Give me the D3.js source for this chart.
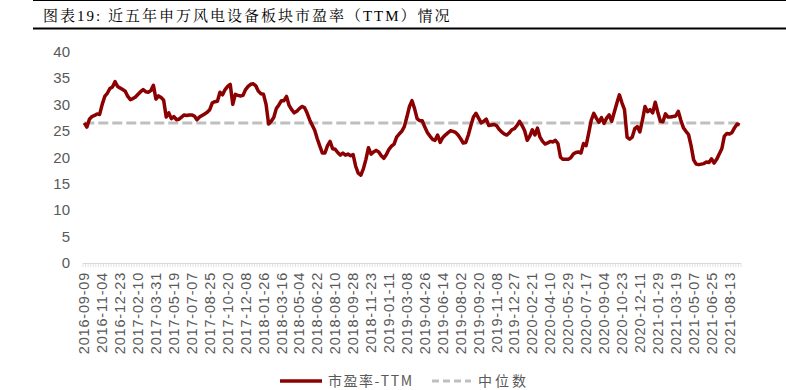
<!DOCTYPE html>
<html>
<head>
<meta charset="utf-8">
<script src="https://cdn.jsdelivr.net/npm/d3@7"></script>
<style>
body { margin: 0; background: #fff; }
</style>
</head>
<body>
<div id="chart-area"></div>
<script>
// weekly dates, 7 per row
var dates = [
"2016-09-09","2016-09-14","2016-09-23","2016-09-30","2016-10-14","2016-10-21","2016-10-28",
"2016-11-04","2016-11-11","2016-11-18","2016-11-25","2016-12-02","2016-12-09","2016-12-16",
"2016-12-23","2016-12-30","2017-01-06","2017-01-13","2017-01-20","2017-01-26","2017-02-03",
"2017-02-10","2017-02-17","2017-02-24","2017-03-03","2017-03-10","2017-03-17","2017-03-24",
"2017-03-31","2017-04-07","2017-04-14","2017-04-21","2017-04-28","2017-05-05","2017-05-12",
"2017-05-19","2017-05-26","2017-06-02","2017-06-09","2017-06-16","2017-06-23","2017-06-30",
"2017-07-07","2017-07-14","2017-07-21","2017-07-28","2017-08-04","2017-08-11","2017-08-18",
"2017-08-25","2017-09-01","2017-09-08","2017-09-15","2017-09-22","2017-09-29","2017-10-13",
"2017-10-20","2017-10-27","2017-11-03","2017-11-10","2017-11-17","2017-11-24","2017-12-01",
"2017-12-08","2017-12-15","2017-12-22","2017-12-29","2018-01-05","2018-01-12","2018-01-19",
"2018-01-26","2018-02-02","2018-02-09","2018-02-14","2018-02-23","2018-03-02","2018-03-09",
"2018-03-16","2018-03-23","2018-03-30","2018-04-04","2018-04-13","2018-04-20","2018-04-27",
"2018-05-04","2018-05-11","2018-05-18","2018-05-25","2018-06-01","2018-06-08","2018-06-15",
"2018-06-22","2018-06-29","2018-07-06","2018-07-13","2018-07-20","2018-07-27","2018-08-03",
"2018-08-10","2018-08-17","2018-08-24","2018-08-31","2018-09-07","2018-09-14","2018-09-21",
"2018-09-28","2018-10-12","2018-10-19","2018-10-26","2018-11-02","2018-11-09","2018-11-16",
"2018-11-23","2018-11-30","2018-12-07","2018-12-14","2018-12-21","2018-12-28","2019-01-04",
"2019-01-11","2019-01-18","2019-01-25","2019-02-01","2019-02-15","2019-02-22","2019-03-01",
"2019-03-08","2019-03-15","2019-03-22","2019-03-29","2019-04-04","2019-04-12","2019-04-19",
"2019-04-26","2019-04-30","2019-05-10","2019-05-17","2019-05-24","2019-05-31","2019-06-06",
"2019-06-14","2019-06-21","2019-06-28","2019-07-05","2019-07-12","2019-07-19","2019-07-26",
"2019-08-02","2019-08-09","2019-08-16","2019-08-23","2019-08-30","2019-09-06","2019-09-12",
"2019-09-20","2019-09-27","2019-09-30","2019-10-11","2019-10-18","2019-10-25","2019-11-01",
"2019-11-08","2019-11-15","2019-11-22","2019-11-29","2019-12-06","2019-12-13","2019-12-20",
"2019-12-27","2020-01-03","2020-01-10","2020-01-17","2020-01-23","2020-02-07","2020-02-14",
"2020-02-21","2020-02-28","2020-03-06","2020-03-13","2020-03-20","2020-03-27","2020-04-03",
"2020-04-10","2020-04-17","2020-04-24","2020-04-30","2020-05-08","2020-05-15","2020-05-22",
"2020-05-29","2020-06-05","2020-06-12","2020-06-19","2020-06-24","2020-07-03","2020-07-10",
"2020-07-17","2020-07-24","2020-07-31","2020-08-07","2020-08-14","2020-08-21","2020-08-28",
"2020-09-04","2020-09-11","2020-09-18","2020-09-25","2020-09-30","2020-10-09","2020-10-16",
"2020-10-23","2020-10-30","2020-11-06","2020-11-13","2020-11-20","2020-11-27","2020-12-04",
"2020-12-11","2020-12-18","2020-12-25","2020-12-31","2021-01-08","2021-01-15","2021-01-22",
"2021-01-29","2021-02-05","2021-02-10","2021-02-19","2021-02-26","2021-03-05","2021-03-12",
"2021-03-19","2021-03-26","2021-04-02","2021-04-09","2021-04-16","2021-04-23","2021-04-30",
"2021-05-07","2021-05-14","2021-05-21","2021-05-28","2021-06-04","2021-06-11","2021-06-18",
"2021-06-25","2021-07-02","2021-07-09","2021-07-16","2021-07-23","2021-07-30","2021-08-06",
"2021-08-13","2021-08-20","2021-08-27","2021-09-03","2021-09-10"
];

// 市盈率-TTM, same rows as dates
var peValues = [
26.5,25.7,27.2,27.7,27.9,28.2,28.1,
30.0,31.5,32.1,33.0,33.3,34.3,33.4,
33.1,32.8,32.5,31.5,30.9,31.1,31.4,
31.9,32.4,32.8,32.4,32.3,32.6,33.6,
31.0,31.6,31.3,30.8,27.6,28.4,27.3,
27.7,27.1,27.2,27.6,28.0,27.9,28.0,
28.0,27.8,27.1,27.6,27.9,28.2,28.5,
29.0,30.3,30.5,30.6,32.3,31.8,32.8,
33.4,33.8,30.0,31.9,31.7,31.6,31.7,
32.8,33.4,33.8,33.9,33.5,32.5,32.0,
31.9,30.0,26.3,26.8,27.5,29.2,29.9,
30.7,30.7,31.5,29.8,29.0,28.4,28.7,
29.2,29.6,29.4,28.4,27.1,26.1,25.1,
23.5,22.1,20.8,20.8,22.2,23.0,21.6,
21.5,20.9,20.4,20.8,20.4,20.6,20.3,
20.5,18.3,17.0,16.6,17.8,19.6,21.8,
20.6,21.0,21.3,21.0,20.3,19.8,20.5,
21.5,22.1,22.5,23.8,24.4,24.9,25.8,
27.6,29.6,30.7,29.2,27.3,26.9,26.9,
25.7,24.7,24.0,23.4,23.2,24.2,22.8,
23.7,24.2,24.6,25.0,24.9,24.7,24.2,
23.5,22.7,22.8,24.2,26.0,27.6,28.3,
27.4,26.5,26.8,27.2,26.0,26.1,26.2,
26.0,25.3,24.8,24.4,24.2,24.6,25.2,
25.4,26.0,26.8,26.0,25.0,23.2,24.0,
25.2,24.2,25.5,23.8,23.0,22.5,22.7,
23.0,22.9,23.2,22.6,20.0,19.6,19.6,
19.6,19.9,20.6,20.9,21.0,20.8,22.6,
22.2,24.5,27.0,28.3,27.4,26.6,27.5,
26.4,27.4,28.0,26.8,28.5,30.2,31.8,
30.3,29.0,23.8,23.4,23.8,25.4,25.8,
24.8,27.0,29.6,28.6,29.0,28.4,30.4,
28.5,26.8,26.7,28.2,27.6,27.6,27.7,
27.8,28.7,27.0,25.6,24.9,24.3,22.2,
19.5,18.7,18.6,18.7,18.8,19.1,19.0,
19.7,18.9,19.6,20.6,21.6,24.0,24.5,
24.4,24.7,25.6,26.3,26.1
];

var medianValue = 26.5;

var tickLabels = [
"2016-09-09","2016-11-04","2016-12-23","2017-02-10","2017-03-31","2017-05-19",
"2017-07-07","2017-08-25","2017-10-20","2017-12-08","2018-01-26","2018-03-16",
"2018-05-04","2018-06-22","2018-08-10","2018-09-28","2018-11-23","2019-01-11",
"2019-03-08","2019-04-26","2019-06-14","2019-08-02","2019-09-20","2019-11-08",
"2019-12-27","2020-02-21","2020-04-10","2020-05-29","2020-07-17","2020-09-04",
"2020-10-23","2020-12-11","2021-01-29","2021-03-19","2021-05-07","2021-06-25",
"2021-08-13"
];
var yTicks = [0, 5, 10, 15, 20, 25, 30, 35, 40];

var seriesNames = ["市盈率-TTM", "中位数"];
var lineColor = "#8b0000";
var medianColor = "#bfbfbf";
var gray = "#595959";

var width = 786, height = 390;
var plot = {left: 83, right: 741, top: 51.5, bottom: 263};

var svg = d3.select("#chart-area").append("svg")
	.attr("width", width)
	.attr("height", height);

// title with rules
svg.append("line")
	.attr("x1", 33).attr("x2", width).attr("y1", 0.5).attr("y2", 0.5)
	.attr("stroke", "#000").attr("stroke-width", 1);
svg.append("line")
	.attr("x1", 33).attr("x2", width).attr("y1", 28.5).attr("y2", 28.5)
	.attr("stroke", "#000").attr("stroke-width", 2);
svg.append("text")
	.attr("x", 43).attr("y", 21)
	.attr("font-family", "'Liberation Serif','Noto Serif CJK SC','Noto Sans CJK SC',serif")
	.attr("font-size", "15px")
	.attr("letter-spacing", "2px")
	.attr("fill", "#000")
	.text("图表19: 近五年申万风电设备板块市盈率（TTM）情况");

var x = d3.scaleBand().domain(dates).range([plot.left, plot.right]).padding(0);
var y = d3.scaleLinear().domain([0, 40]).range([plot.bottom, plot.top]);

function cx(d) { return x(d) + x.bandwidth() / 2; }

// y axis labels
var yAxisGroup = svg.append("g")
	.attr("transform", "translate(" + (plot.left - 13) + ",0)")
	.call(d3.axisLeft(y).tickValues(yTicks).tickSize(0).tickPadding(0));
yAxisGroup.select(".domain").remove();
yAxisGroup.selectAll("text")
	.attr("font-family", "'Liberation Sans',Arial,sans-serif")
	.attr("font-size", "15px")
	.attr("fill", gray);

// x axis: dense minor ticks at every category boundary
var xAxisGroup = svg.append("g")
	.attr("transform", "translate(0," + plot.bottom + ")");
xAxisGroup.append("line")
	.attr("x1", plot.left).attr("x2", plot.right)
	.attr("y1", 0.5).attr("y2", 0.5)
	.attr("stroke", "#d9d9d9");
xAxisGroup.selectAll("line.tk")
	.data(dates.concat(["end"]))
	.enter().append("line")
	.attr("class", "tk")
	.attr("x1", (d, i) => { return i < dates.length ? x(d) : plot.right; })
	.attr("x2", (d, i) => { return i < dates.length ? x(d) : plot.right; })
	.attr("y1", 0).attr("y2", 4)
	.attr("stroke", "#d9d9d9").attr("stroke-width", 0.8);

var xLabels = svg.append("g")
	.attr("transform", "translate(0," + plot.bottom + ")")
	.call(d3.axisBottom(x).tickValues(tickLabels).tickSize(0).tickPadding(0));
xLabels.select(".domain").remove();
xLabels.selectAll("text")
	.attr("font-family", "'Liberation Sans',Arial,sans-serif")
	.attr("font-size", "14.5px")
	.attr("fill", gray)
	.attr("letter-spacing", "0.8px")
	.attr("text-anchor", "end")
	.attr("dy", "0.35em")
	.attr("transform", "translate(0,9) rotate(-90)");

// median dashed line
var medianLine = d3.line()
	.x((d) => { return cx(d); })
	.y(() => { return y(medianValue); });
svg.append("path")
	.datum(dates)
	.attr("d", medianLine)
	.attr("fill", "none")
	.attr("stroke", medianColor)
	.attr("stroke-width", 3)
	.attr("stroke-dasharray", "10,4");

// P/E line
var peLine = d3.line()
	.x((d, i) => { return cx(dates[i]); })
	.y((d) => { return y(d); });
svg.append("path")
	.datum(peValues)
	.attr("d", peLine)
	.attr("fill", "none")
	.attr("stroke", lineColor)
	.attr("stroke-width", 3.5)
	.attr("stroke-linejoin", "round");

// legend
var legend = svg.append("g").attr("transform", "translate(0,381)");
legend.append("line")
	.attr("x1", 280).attr("x2", 322).attr("y1", 0).attr("y2", 0)
	.attr("stroke", lineColor).attr("stroke-width", 3.5);
legend.append("text")
	.attr("x", 328).attr("y", 5)
	.attr("font-family", "'Noto Sans CJK SC',sans-serif")
	.attr("font-size", "14px")
	.attr("fill", gray)
	.attr("letter-spacing", "1.5px")
	.text(seriesNames[0]);
legend.append("line")
	.attr("x1", 432).attr("x2", 471).attr("y1", 0).attr("y2", 0)
	.attr("stroke", medianColor).attr("stroke-width", 3)
	.attr("stroke-dasharray", "7,4");
legend.append("text")
	.attr("x", 478).attr("y", 5)
	.attr("font-family", "'Noto Sans CJK SC',sans-serif")
	.attr("font-size", "14px")
	.attr("fill", gray)
	.attr("letter-spacing", "3px")
	.text(seriesNames[1]);
</script>
</body>
</html>
